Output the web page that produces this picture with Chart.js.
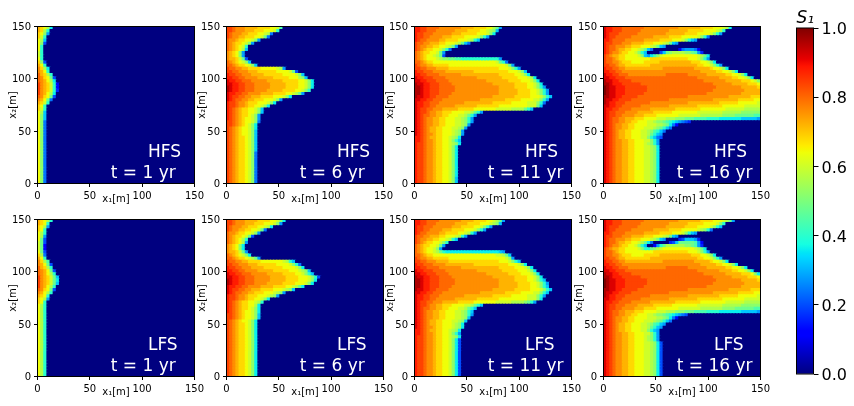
<!DOCTYPE html>
<html>
<head>
<meta charset="utf-8">
<script src="https://cdn.jsdelivr.net/npm/chart.js@4"></script>
<style>
  html, body { margin: 0; padding: 0; background: #fff; overflow: hidden; }
  canvas { position: absolute; }
</style>
</head>
<body>
<script>
// saturation, one string per x2 row (top row first), one letter per 3 m cell
// a = 0.00, b = 0.04 ... z = 1.00; cells missing at the end of a row are a
const hfs1 = [
  "srqoj","srok","rqnh","rpk","qoi",
  "qnf","qk","qk","pk","pk",
  "qk","rnf","sqk","troj","tsqk",
  "usrok","utrqmf","utsqoj","vtsrpkd","vtsrpkd",
  "vtsrpke","vtsqoj","utrqmf","tsqmg","srpk",
  "rqk","rpk","qoi","qni","qni",
  "qng","qng","qng","qng","qng",
  "qng","qng","qng","qng","qng",
  "qng","qng","qng","qng","qng",
  "qng","qng","qng","qng","qng"
];
const hfs6 = [
  "vvutttssssrrrrqqpl","vvutttsssrrrqqqpk","vutttssrrrqqpog","vuttssrrrqqpmg","uttsrrqqpnh",
  "utsrrqpnh","utsrqpk","utsrqoi","tsrqnh","tsrqnh",
  "tssrpmf","utsrqpni","uutsrrqpni","vuuttssrrrrqqqqqpoh","vvuutttsssrrrrrrqqqqpmf",
  "wvvuutttssssrrrrrrqqqqpni","wwvvuuttttsssssrrrrrqqqoni","xwwvvuuutttttsssssrrrrrqqpnj","xxwwvvuuutttttsssssrrrrqqpnj","yxwwvvuuutttttsssssrrrrqqpnj",
  "yxwwvvuuuttttsssssrrrrqqpnk","xwwvvuuttttssssrrrrqqpomh","xwvvuuttsssrrrrqqqpnj","xwvuuttssrrrqqqpnh","wvvuttsrrrqqqpnj",
  "wvvuttsrrqqpnj","wvutsrrqqpni","wvutsrrqqpni","wvutsrrqpnh","wvutsrqqpnh",
  "vvutsrqqpng","vvutsrqpnj","vutsrqqpnj","vutsrqqpni","vutsrqqpni",
  "vutsrrqpni","vutsrrqpni","vutsrrqpni","vutsrrqpni","vutsrrqpni",
  "vutsrrqpng","vutsrrqpng","vutsrrqpng","vutsrrqpng","vutsrrqpng",
  "vutsrrqpng","vutsrrqpng","vutsrrqpng","vutsrrqpng","vutsrrqpng"
];
const hfs11 = [
  "wwvvuuuutttttttssssrrrrqqomh","wwvvuuuttttttssssrrrrqqponi","wvvuuuttttttsssrrrrrqqqpnj","wvvuuttttsssrrrrqqqqpnkh","wvuuttttssrrrrqqqpoki",
  "vuuttsssrrqqqpomig","vuttssrrqqpomh","vutsrrqqpnkg","utsrrqqpmh","utsrqqpomf",
  "utsrqqqponnmmllkkkkkkkkkkkkh","uutsrrqqqqqqqqqqqqqqqqqqqqpmkg","vuttssrrrrrqqqqqqqqqqqqqqqqqqpmh","vvuutttssssrrrrrrrrrrrrrrrrqqqpnkh","wvvuuuttttsssssssssrrrrrrrrrrrqqqpni",
  "wwvvuuuutttttttssssssssssssrrrrrqqpnj","xwwvvvuuuuttttttttttssssssssrrrrrqqqpoj","xxwwvvvuuuuttttttttttttsssssssrrrrqqqpnj","yxxwwvvvuuuutttttttttttttsssssssrrrrqqpnj","yyxwwvvvuuuuuttttttttttttttsssssrrrrqqpnkh",
  "yyxwwvvvuuuuuttttttttttttttssssssrrrrqqpnkh","yyxwwvvvuuuutttttttttttttttssssssrrrrqqpnkh","yxxwwvvuuuuttttttttttttttsssssssrrrrrqqqpnki","xxwwvvuuuttttttttttttssssssssrrrrrqqqqppnkh","xwwvvuuuttttttttsssssssssrrrrrrqqqqqpppnkg",
  "xwwvvuuttttttsssssssrrrrrrrqqqqqqqqqpppmi","xwvvuutttsssssrrrrrqqqqqqqpppppoooomki","xwvvuttssrrrqqqqppomkh","xwvuuttssrrqqqppomkh","xwvuttssrrqqqpponkh",
  "xwvuttssrrqqqpponkh","xwvuttssrrqqqpponh","xwvutssrrqqqpponh","xwvutssrrqqqponh","xwvuttsrrqqqponh",
  "wwvutssrrqqponj","wwvuttsrrqqpnki","wvvuttsrrqqponj","wvvuttsrrqqpnj","wvvuttsrrqqpnj",
  "wvvuttsrrqqpnj","wvvuttsrrqqpnj","wvvuttsrrqqpnj","wvvuttsrrqqpnj","wvvuttsrrqqpnj",
  "wvvuttsrrqqpnj","wvvuttsrrqqpnj","wvvuttsrrqqpnj","wvvuttsrrqqpni","wvvuttsrrqqpni"
];
const hfs16 = [
  "xwwvvvuuuuuuutttttttttttsssssssrrrrqqqpoj","xwwvvvuuuuuutttttttttssssssrrrrrqqqqpok","xwvvvuuuuuutttttttttssssssrrrrqqqqpnkh","xwvvuuuuutttttttsssssrrrrqqqqqpnkg","wwvuuuuttttttsssssrrrrqqqpnkih",
  "wvvuuutttssssrrrqqqpomih","wvuutttssrrrqqqpomih","wvuutssrrqqpomigaaaaaaaadghhhgd","wvuttsrrqqpnkiaaaafimnoooonnmlhe","vutssrrqqqqpnihjlnpqqqqqqqqqqqpomj",
  "vuutsrrqqqqqqqqrrrrrrrrrrrrqqqpnkh","vuuttsrrrqqqqrrrrrssssssssssrrrqqpnj","vvuutssrrrrrrrrsssssssssssssssrrqqpnkh","wvvuuttssssssssssssttttttttttsssssrqqpnj","wwvvuutttttttttttttttttttttttttsssssrrqqpnj",
  "xwwvvuuuttttttttttttuuuuuuuttttttssssssrrqqpnj","xxwwvvvuuuuuuuuuuuuuuuuuuuuuuutttttttssssrrqqpnj","yxxwwvvvvuuuuuuuuuuuuuuuuuuuuuuutttttttsssssrrrqpn","yyxwwwvvvvvvuuuuuuuuuuuuuuuuuuuuuuuttttttsssssrrrq","zyxxwwwvvvvvvvuuuuuuuuuuuuuuuuuuuuuuttttttttsssssr",
  "zyxxwwwvvvvvvvuuuuuuuuuuuuuuuuuuuuuttttttttttsssss","zyxxwwwvvvvvvuuuuuuuuuuuuuuuuuuuutttttttttttssssss","yyxxwwvvvvvuuuuuuuuuuuuuuuutttttttttttttsssssssrrr","yxxwwvvvvuuuuuuuuuuuuttttttttttttttssssssssrrrrrqq","yxwwvvvuuuuuuuuttttttttttttssssssssssrrrrrrqqqqqqp",
  "xxwwvvuuuuuutttttttttsssssssssrrrrrrrrqqqqqqqppppp","xwwvvuuuuttttttssssssssrrrrrrrrqqqqqqqqppppppooooo","xwvvuuuttttsssssrrrrrrqqqqqqqqppppppppoooooonnnnnn","xwvvuuttttsssrrrrqqqqqqqpppppppooooooonnnnmmmmmmll","xwvuuttsssrrrqqqqpppooonnnmmmllllkkkkjjjjjjjiiiiih",
  "xwvuuttssrrqqqpponnmlkjihgfe","xwvuttssrrqqqqpppoonmjgd","xwvuttssrrqqqppponmkig","xwvutssrrqqqpponlkig","xwvutssrrqqqppomkih",
  "xwvutssrrqqqppnkigf","xwvuttssrrqqqppnkh","xwvuttssrrqqqponkh","xwvuttssrrqqqpponj","xwvuttssrrqqqpponj",
  "xwvuttssrrqqqpponj","xwvuttssrrqqqpponj","xwvuttssrrqqqpponj","xwvuttssrrqqqpponj","xwvuttssrrqqqpponj",
  "xwvuttssrrqqqpponj","xwvuttssrrqqqpponj","xwvuttssrrqqqpponj","xwvuttssrrqqqpponj","xwvuttssrrqqqpponj"
];
const lfs1 = [
  "srqok","srqk","rqoh","rqk","qok",
  "qoh","qmf","pmf","pmd","pmd",
  "qmf","rog","sqk","trol","tsqmf",
  "usrok","utsqmf","utsqok","vtsrpmi","vtsrpmj",
  "vtsrpmi","vtsqok","utrqmf","tsqok","srqk",
  "rqoh","rqk","qok","qok","qok",
  "qok","qok","qok","qok","qok",
  "qok","qok","qok","qok","qok",
  "qok","qok","qok","qok","qok",
  "qok","qok","qok","qok","qok"
];
const lfs6 = [
  "vvutttssssrrrrqqpnj","vvutttsssrrrqqqpnh","vutttssrrrqqpoj","vuttssrrqqpmg","uttsrrqqpnh",
  "utsrrqpmf","utsrqok","utsrqoh","tsrqnj","tsrqnj",
  "tssrpmh","utsrqpnj","uutsrrqpomh","vuuttssrrrrqqqqqqqpoki","vvuutttsssrrrrrrqqqqpnkg",
  "wvvuutttssssrrrrrrqqqqpnj","wwvvuuttttsssssrrrrrqqqponi","xwwvvuuutttttsssssrrrrqqpnki","xxwwvvuuutttttsssssrrrrqqqpnkf","yxwwvvuuutttttsssssrrrrqqqpnj",
  "yxwwvvuuuttttsssssrrrrqqqpnj","xwwvvuuttttssssrrrrqqpomj","xwvvuuttsssrrrrqqqponi","xwvuuttssrrrqqqponh","wvvuttsrrrqqqponh",
  "wvvuttsrrqqpnj","wvutsrrqqpok","wvutsrrqqoj","wvutsrrqpnj","wvutsrqqpnj",
  "vvutsrqqpni","vvutsrqqpni","vutsrqqpnj","vutsrrqpnj","vutsrrqpnj",
  "vutsrrqpnj","vutsrrqpnj","vutsrrqpnj","vutsrrqpnj","vutsrrqpnj",
  "vutsrrqpnj","vutsrrqpnj","vutsrrqpnj","vutsrrqpnj","vutsrrqpnj",
  "vutsrrqpnj","vutsrrqpnj","vutsrrqpnj","vutsrrqpnj","vutsrrqpnj"
];
const lfs11 = [
  "wwvvuuuutttttttssssrrrrqqpomh","wwvvuuuttttttssssrrrrqqqponi","wvvuuuttttttsssrrrrqqpnkh","wvvuuttttsssrrrrqqqpnkh","wvuuttttssrrrrqqpokh",
  "vuuttsssrrqqqpokh","vuttssrrqqpoki","vutsrrqqpnk","utsrrqqpmh","utsrqqpnh",
  "utsrqqpomkjjjjjjjjjjjjjjjjjih","uutsrrqqqqqqqqqqqqqqqqqqqqppomi","vuttssrrrrrqqqqqqqqqqqqqqqqqqpnh","vvuutttssssrrrrrrrrrrrrrrrrqqqpnki","wvvuuuttttsssssssssrrrrrrrrrrrqqqpnj",
  "wwvvuuuutttttttssssssssssssrrrrrqqqpnj","xwwvvvuuuuttttttttttssssssssrrrrrqqqpnj","xxwwvvvuuuuttttttttttttsssssssrrrrqqqpnj","yxxwwvvvuuuutttttttttttttsssssssrrrrqqpnj","yyxwwvvvuuuuuttttttttttttttsssssrrrrqqpnki",
  "yyxwwvvvuuuuuttttttttttttttssssssrrrrqqpnkh","yyxwwvvvuuuutttttttttttttttssssssrrrrqqpnki","yxxwwvvuuuuttttttttttttttsssssssrrrrrqqqpnki","xxwwvvuuuttttttttttttssssssssrrrrrqqqqppnki","xwwvvuuuttttttttsssssssssrrrrrrqqqqqpppnkh",
  "xwwvvuuttttttsssssssrrrrrrrqqqqqqqqqpppnj","xwvvuutttsssssrrrrrqqqqqqqpppppoooonmkh","xwvvuttssrrrqqqqppomki","xwvuuttssrrqqqppomki","xwvuttssrrqqqpponki",
  "xwvuttssrrqqqpponkh","xwvuttssrrqqqpponi","xwvutssrrqqqpponi","xwvutssrrqqqponj","xwvuttsrrqqqponj",
  "wwvutssrrqqponj","wwvuttsrrqqpnkh","wvvuttsrrqqponj","wvvuttsrrqqpnjf","wvvuttsrrqqpnjf",
  "wvvuttsrrqqpnjf","wvvuttsrrqqpnjf","wvvuttsrrqqpnjf","wvvuttsrrqqpnjf","wvvuttsrrqqpnjf",
  "wvvuttsrrqqpnjf","wvvuttsrrqqpnjf","wvvuttsrrqqpnjf","wvvuttsrrqqpnjf","wvvuttsrrqqpnjf"
];
const lfs16 = [
  "xwwvvvuuuuuuutttttttttttsssssssrrrrqqqpomh","xwwvvvuuuuuutttttttttssssssrrrrrqqqqpnk","xwvvvuuuuuutttttttttssssssrrrrqqqqpnki","xwvvuuuuutttttttsssssrrrrqqqqqponkg","wwvuuuuttttttsssssrrrrqqqpnkih",
  "wvvuuutttssssrrrqqqpomih","wvuutttssrrrqqqpomihaaaaefiiihe","wvuutssrrqqpomjgaaaaaefimmmmmlhd","wvuttsrrqqpnkiaadhkmoooooonnmlhe","vutssrrqqqqpnkkmnopqqqqqqqqqqpomj",
  "vuutsrrqqqqqqqqqrrrrrrrrrrrqqqpnkh","vuuttsrrrqqqqrrrrrssssssssssrrrqqpnj","vvuutssrrrrrrrrsssssssssssssssrrqqpnkh","wvvuuttssssssssssssttttttttttsssssrqqpnj","wwvvuutttttttttttttttttttttttttsssssrrqqpnj",
  "xwwvvuuuttttttttttttuuuuuuuttttttssssssrrqqpnj","xxwwvvvuuuuuuuuuuuuuuuuuuuuuuutttttttssssrrqqpnj","yxxwwvvvvuuuuuuuuuuuuuuuuuuuuuuutttttttsssssrrrqnj","yyxwwwvvvvvvuuuuuuuuuuuuuuuuuuuuuuuttttttsssssrrrq","zyxxwwwvvvvvvvuuuuuuuuuuuuuuuuuuuuuuttttttttsssssr",
  "zyxxwwwvvvvvvvuuuuuuuuuuuuuuuuuuuuuttttttttttsssss","zyxxwwwvvvvvvuuuuuuuuuuuuuuuuuuuutttttttttttssssss","yyxxwwvvvvvuuuuuuuuuuuuuuuutttttttttttttsssssssrrr","yxxwwvvvvuuuuuuuuuuuuttttttttttttttssssssssrrrrrqq","yxwwvvvuuuuuuuuttttttttttttssssssssssrrrrrrqqqqqqp",
  "xxwwvvuuuuuutttttttttsssssssssrrrrrrrrqqqqqqqppppp","xwwvvuuuuttttttssssssssrrrrrrrrqqqqqqqqppppppooooo","xwvvuuuttttsssssrrrrrrqqqqqqqqppppppppoooooonnnnnn","xwvvuuttttsssrrrrqqqqqqqpppppppooooooonnnnmmmmmmll","xwvuuttsssrrrqqqqpppooonnnmmmllllkkkkjjjjjjjiiiiih",
  "xwvuuttssrrqqqpponnmlkjihgf","xwvuttssrrqqqqpppoonmjgd","xwvuttssrrqqqppponmkig","xwvutssrrqqqpponlkih","xwvutssrrqqqppomkih",
  "xwvutssrrqqqppnkih","xwvuttssrrqqqppnkh","xwvuttssrrqqqponkh","xwvuttssrrqqqponkh","xwvuttssrrqqqpponjf",
  "xwvuttssrrqqqpponjf","xwvuttssrrqqqpponjf","xwvuttssrrqqqpponjf","xwvuttssrrqqqpponjf","xwvuttssrrqqqpponjf",
  "xwvuttssrrqqqpponjf","xwvuttssrrqqqpponjf","xwvuttssrrqqqpponjf","xwvuttssrrqqqpponjf","xwvuttssrrqqqpponjf"
];

const axisTicks = [0, 50, 100, 150];
const colorbarTicks = [0, 0.2, 0.4, 0.6, 0.8, 1];
const timeLabels = ["t = 1 yr", "t = 6 yr", "t = 11 yr", "t = 16 yr"];
const rowsHFS = [hfs1, hfs6, hfs11, hfs16];
const rowsLFS = [lfs1, lfs6, lfs11, lfs16];

const fontFamily = '"DejaVu Sans", sans-serif';
const plotLefts = [37.5, 226.5, 414.5, 603.5];
const plotTops = [26.5, 219.5];
const cellMetres = 3;
const gridCols = 50;
const gridRows = 50;

// matplotlib jet breakpoints
const jetRed = [[0, 0], [0.35, 0], [0.66, 1], [0.89, 1], [1, 0.5]];
const jetGreen = [[0, 0], [0.125, 0], [0.375, 1], [0.64, 1], [0.91, 0], [1, 0]];
const jetBlue = [[0, 0.5], [0.11, 1], [0.34, 1], [0.65, 0], [1, 0]];

function channel(stops, v) {
    for (let i = 1; i < stops.length; i++) {
        if (v <= stops[i][0]) {
            const [x0, y0] = stops[i - 1];
            const [x1, y1] = stops[i];
            return y0 + (y1 - y0) * (v - x0) / (x1 - x0);
        }
    }
    return stops[stops.length - 1][1];
}

function jet(v) {
    const r = Math.round(channel(jetRed, v) * 255);
    const g = Math.round(channel(jetGreen, v) * 255);
    const b = Math.round(channel(jetBlue, v) * 255);
    return `rgb(${r},${g},${b})`;
}

function toCells(rows) {
    const cells = [];
    rows.forEach((row, r) => {
        const full = row.padEnd(gridCols, 'a');
        for (let c = 0; c < gridCols; c++) {
            cells.push({
                x: (c + 0.5) * cellMetres,
                y: (gridRows - r - 0.5) * cellMetres,
                s: (full.charCodeAt(c) - 97) / 25
            });
        }
    });
    return cells;
}

const panelDecor = {
    id: 'panelDecor',
    afterDraw(chart, args, opts) {
        const { ctx, chartArea: a, scales } = chart;
        ctx.save();
        ctx.strokeStyle = '#000';
        ctx.lineWidth = 1;
        ctx.strokeRect(a.left, a.top, a.right - a.left, a.bottom - a.top);
        ctx.fillStyle = '#fff';
        ctx.font = '17px ' + fontFamily;
        ctx.textBaseline = 'alphabetic';
        ctx.fillText(opts.model, scales.x.getPixelForValue(105.5), scales.y.getPixelForValue(25));
        ctx.fillText(opts.time, scales.x.getPixelForValue(70), scales.y.getPixelForValue(5));
        ctx.restore();
    }
};

function addCanvas(left, top, width, height) {
    const canvas = document.createElement('canvas');
    canvas.width = width;
    canvas.height = height;
    canvas.style.left = left + 'px';
    canvas.style.top = top + 'px';
    canvas.style.width = width + 'px';
    canvas.style.height = height + 'px';
    document.body.appendChild(canvas);
    return canvas;
}

function axisOptions(label, side) {
    return {
        type: 'linear',
        min: 0,
        max: 150,
        afterBuildTicks: s => { s.ticks = axisTicks.map(v => ({ value: v })); },
        afterFit: s => {
            if (side === 'x') s.height = 22;
            else s.width = 37.5;
        },
        grid: { drawOnChartArea: false, drawTicks: true, tickLength: 3.5, color: '#000' },
        border: { display: false },
        ticks: {
            color: '#000',
            padding: 3,
            maxRotation: 0,
            autoSkip: false,
            labelOffset: side === 'x' ? 0 : 1,
            font: { family: fontFamily, size: 10 }
        },
        title: {
            display: true,
            text: label,
            color: '#000',
            padding: side === 'x' ? 0 : { top: 7, bottom: 0 },
            font: { family: fontFamily, size: 10 }
        }
    };
}

function drawPanel(rows, model, time, plotLeft, plotTop) {
    const canvasLeft = plotLeft - 37.5;
    const canvasTop = Math.floor(plotTop) - 12;
    const canvas = addCanvas(canvasLeft, canvasTop, 209, 192);
    const cells = toCells(rows);
    new Chart(canvas.getContext('2d'), {
        type: 'scatter',
        data: {
            datasets: [{
                data: cells,
                pointStyle: 'rect',
                pointRadius: 3,
                pointBorderWidth: 0,
                pointBackgroundColor: cells.map(d => jet(d.s))
            }]
        },
        options: {
            responsive: false,
            animation: false,
            events: [],
            layout: { autoPadding: false, padding: { left: 0, top: plotTop - canvasTop, right: 14.5, bottom: 0.5 } },
            plugins: {
                legend: { display: false },
                tooltip: { enabled: false },
                panelDecor: { model, time }
            },
            scales: {
                x: axisOptions('x\u2081[m]', 'x'),
                y: axisOptions('x\u2082[m]', 'y')
            }
        },
        plugins: [panelDecor]
    });
}

function drawColorbar() {
    const canvas = addCanvas(790, 0, 64, 406);
    new Chart(canvas.getContext('2d'), {
        type: 'bar',
        data: {
            labels: ['S1'],
            datasets: [{
                data: [[0, 1]],
                barPercentage: 1,
                categoryPercentage: 1,
                backgroundColor: c => {
                    const a = c.chart.chartArea;
                    if (!a) return '#000';
                    const grad = c.chart.ctx.createLinearGradient(0, a.bottom, 0, a.top);
                    const stops = [...jetRed, ...jetGreen, ...jetBlue].map(p => p[0]);
                    stops.forEach(v => grad.addColorStop(v, jet(v)));
                    return grad;
                }
            }]
        },
        options: {
            responsive: false,
            animation: false,
            events: [],
            layout: { autoPadding: false, padding: { left: 6.5, top: 28, right: 0, bottom: 32 } },
            plugins: { legend: { display: false }, tooltip: { enabled: false } },
            scales: {
                x: { display: false },
                y: {
                    position: 'right',
                    min: 0,
                    max: 1,
                    afterBuildTicks: s => { s.ticks = colorbarTicks.map(v => ({ value: v })); },
                    afterFit: s => { s.width = 40.5; },
                    grid: { drawOnChartArea: false, drawTicks: true, tickLength: 5, color: '#000' },
                    border: { display: false },
                    ticks: {
                        color: '#000',
                        padding: 3,
                        labelOffset: 2,
                        callback: v => v.toFixed(1),
                        font: { family: fontFamily, size: 16 }
                    }
                }
            }
        },
        plugins: [{
            id: 'colorbarDecor',
            afterDraw(chart) {
                const { ctx, chartArea: a } = chart;
                ctx.save();
                ctx.strokeStyle = '#000';
                ctx.lineWidth = 1;
                ctx.strokeRect(a.left, a.top, a.right - a.left, a.bottom - a.top);
                ctx.fillStyle = '#000';
                ctx.font = 'italic 17px ' + fontFamily;
                ctx.fillText('S\u2081', a.left, 23);
                ctx.restore();
            }
        }]
    });
}

plotLefts.forEach((left, i) => {
    drawPanel(rowsHFS[i], 'HFS', timeLabels[i], left, plotTops[0]);
    drawPanel(rowsLFS[i], 'LFS', timeLabels[i], left, plotTops[1]);
});
drawColorbar();
</script>
</body>
</html>
